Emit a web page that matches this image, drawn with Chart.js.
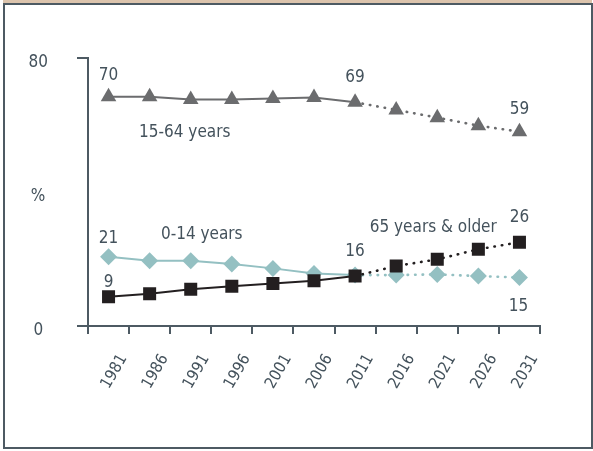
<!DOCTYPE html>
<html>
<head>
<meta charset="utf-8">
<script src="https://cdn.jsdelivr.net/npm/chart.js@4"></script>
<style>
  body { margin: 0; background: #fff; }
  .band { position: absolute; left: 3px; top: 0; width: 589px; height: 4px; background: #dcc4ad; }
  .frame { position: absolute; left: 3px; top: 3px; width: 590px; height: 446px; border: 2px solid #4d5a63; box-sizing: border-box; }
  #chart { position: absolute; left: 0; top: 0; }
</style>
</head>
<body>
<div class="band"></div>
<div class="frame"></div>
<canvas id="chart" width="593" height="451"></canvas>
<script>
// 연도
const years = ["1981", "1986", "1991", "1996", "2001", "2006", "2011", "2016", "2021", "2026", "2031"];
// 연령대별 비율 (%)
const age15to64 = [68.4, 68.4, 67.6, 67.6, 67.9, 68.2, 66.8, 64.5, 62.2, 59.8, 58.0];
const age0to14 = [20.7, 19.5, 19.5, 18.5, 17.2, 15.7, 15.2, 15.2, 15.4, 14.9, 14.5];
const age65plus = [8.7, 9.6, 11.0, 11.9, 12.7, 13.5, 14.9, 17.9, 19.9, 22.9, 25.0];
const yTicks = [0, 80];
const lastActual = 6; // 2011 이후는 추계

const FONT = "'Liberation Sans Narrow', 'DejaVu Sans Condensed', sans-serif";
const TEXT = "#44525c";
const AXIS = "#4d5a63";

// 차트 위 텍스트 (데이터셋 번호, 인덱스, 글자, 오프셋)
const notes = [
  { ds: 1, i: 0, text: "70", dx: 0, dy: -21 },
  { ds: 1, i: 6, text: "69", dx: 0, dy: -25 },
  { ds: 1, i: 10, text: "59", dx: 0, dy: -22 },
  { ds: 1, i: 2, text: "15-64 years", dx: -6, dy: 33 },
  { ds: 2, i: 0, text: "21", dx: 0, dy: -18 },
  { ds: 2, i: 2, text: "0-14 years", dx: 11, dy: -26 },
  { ds: 0, i: 0, text: "9", dx: 0, dy: -14 },
  { ds: 0, i: 6, text: "16", dx: 0, dy: -25 },
  { ds: 0, i: 8, text: "65 years & older", dx: -4, dy: -32 },
  { ds: 0, i: 10, text: "26", dx: 0, dy: -25 },
  { ds: 2, i: 10, text: "15", dx: -1, dy: 29 }
];

const projected = ctx => ctx.p0DataIndex >= lastActual;

function series(label, data, color, style, radius) {
  return {
    label, data,
    borderColor: color, backgroundColor: color,
    pointBackgroundColor: color, pointBorderWidth: 0,
    pointStyle: style, pointRadius: radius, pointHoverRadius: radius,
    borderWidth: 2, tension: 0,
    segment: {
      borderDash: ctx => projected(ctx) ? [0.5, 7] : undefined,
      borderCapStyle: ctx => projected(ctx) ? "round" : "butt",
      borderWidth: ctx => projected(ctx) ? 2.6 : 2
    }
  };
}

const notePlugin = {
  id: "notes",
  afterDatasetsDraw(chart) {
    const ctx = chart.ctx;
    ctx.save();
    ctx.fillStyle = TEXT;
    ctx.font = "17px " + FONT;
    ctx.textAlign = "center";
    ctx.textBaseline = "middle";
    notes.forEach(n => {
      const pt = chart.getDatasetMeta(n.ds).data[n.i];
      ctx.fillText(n.text, pt.x + n.dx, pt.y + n.dy);
    });
    // y축 단위
    const ys = chart.scales.y;
    ctx.fillText("%", 38, (ys.top + ys.bottom) / 2 + 5);
    ctx.restore();
  }
};

new Chart(document.getElementById("chart").getContext("2d"), {
  type: "line",
  data: {
    labels: years,
    datasets: [
      series("65 years & older", age65plus, "#231f20", "rect", 9.2),
      series("15-64 years", age15to64, "#6b6c6e", "triangle", 9),
      series("0-14 years", age0to14, "#94c0c2", "rectRot", 8.5)
    ]
  },
  options: {
    responsive: false,
    animation: false,
    layout: { padding: { left: 0, top: 58, right: 53, bottom: 0 } },
    plugins: { legend: { display: false }, tooltip: { enabled: false } },
    scales: {
      x: {
        offset: true,
        afterFit: s => { s.height = 125; },
        grid: { offset: true, drawOnChartArea: false, tickLength: 8, lineWidth: 2, color: AXIS },
        border: { color: AXIS, width: 2 },
        ticks: {
          color: TEXT, font: { family: FONT, size: 16 },
          minRotation: 60, maxRotation: 60, labelOffset: 15, padding: 17, autoSkip: false
        }
      },
      y: {
        min: 0, max: 80,
        afterFit: s => { s.width = 88; },
        afterBuildTicks: s => { s.ticks = yTicks.map(v => ({ value: v })); },
        grid: { drawOnChartArea: false, tickLength: 11, lineWidth: 2, color: AXIS },
        border: { color: AXIS, width: 2 },
        ticks: { color: TEXT, font: { family: FONT, size: 17 }, padding: 29, labelOffset: 5, crossAlign: "center" }
      }
    }
  },
  plugins: [notePlugin]
});
</script>
</body>
</html>
